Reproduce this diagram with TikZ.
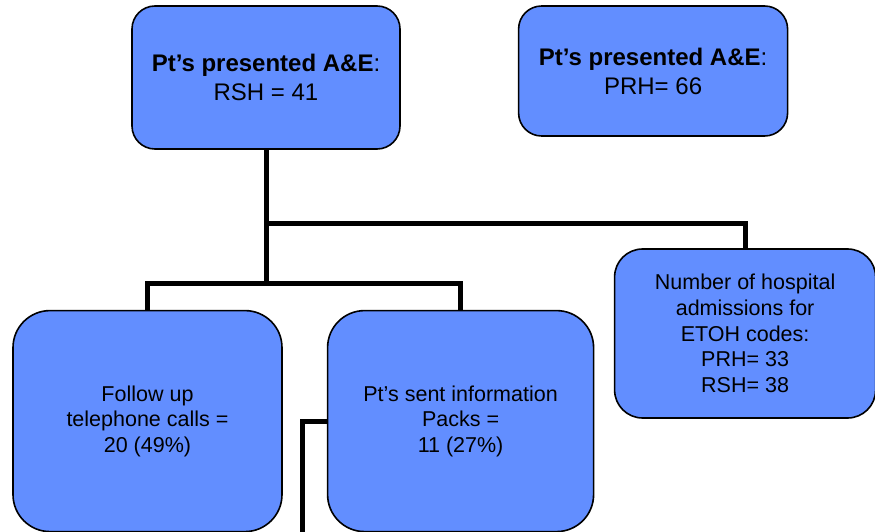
\documentclass[tikz,border=0pt]{standalone}
\usepackage{fontspec}
\setmainfont{Liberation Sans}
\usepackage{tikz}
\usetikzlibrary{positioning, calc}

\definecolor{boxblue}{RGB}{98,142,255}
\tikzset{
  box/.style={draw=black, line width=1.6pt, fill=boxblue, rounded corners=#1, align=center, inner sep=0pt},
  box/.default=23pt,
  toptext/.style={font=\fontsize{24}{29}\selectfont},
  lowtext/.style={font=\fontsize{21.5}{25.6}\selectfont},
  link/.style={line width=5pt, draw=black}
}

\begin{document}
\begin{tikzpicture}[x=1pt, y=-1pt]
        \useasboundingbox (0,0) rectangle (875,532);
        \clip (0,0) rectangle (875,532);
        \node[box, toptext, minimum width=268pt, minimum height=143pt] (rsh) at (266,77.5) {\textbf{Pt’s presented A\&E}:\\RSH = 41};
        \node[box, toptext, minimum width=269pt, minimum height=130pt, right=117pt of rsh.north east, anchor=north west] (prh) {\textbf{Pt’s presented A\&E}:\\PRH= 66};
        \node[box=28pt, lowtext, minimum width=261pt, minimum height=169pt, below right=243pt and 213pt of rsh.north east, anchor=north west] (adm) {Number of hospital\\admissions for\\ETOH codes:\\PRH= 33\\RSH= 38};
        \node[box=37pt, lowtext, minimum width=269pt, minimum height=221pt, below left=160pt and 119pt of rsh.south west, anchor=north west] (calls) {Follow up\\telephone calls =\\20 (49\%)};
        \node[box=37pt, lowtext, minimum width=266pt, minimum height=221pt, right=44pt of calls.north east, anchor=north west] (packs) {Pt’s sent information\\Packs =\\11 (27\%)};
        \draw[link] (rsh.south) -- ++(0,134) coordinate (fork);
        \draw[link] (calls.north) |- (fork) -| (packs.north);
        \draw[link] (rsh.south) -- ++(0,74) -| (adm.north);
        \draw[link] (calls.south) -- ++(0,3) -| ($(packs.west)+(-24,0)$) -- (packs.west);
\end{tikzpicture}
\end{document}
